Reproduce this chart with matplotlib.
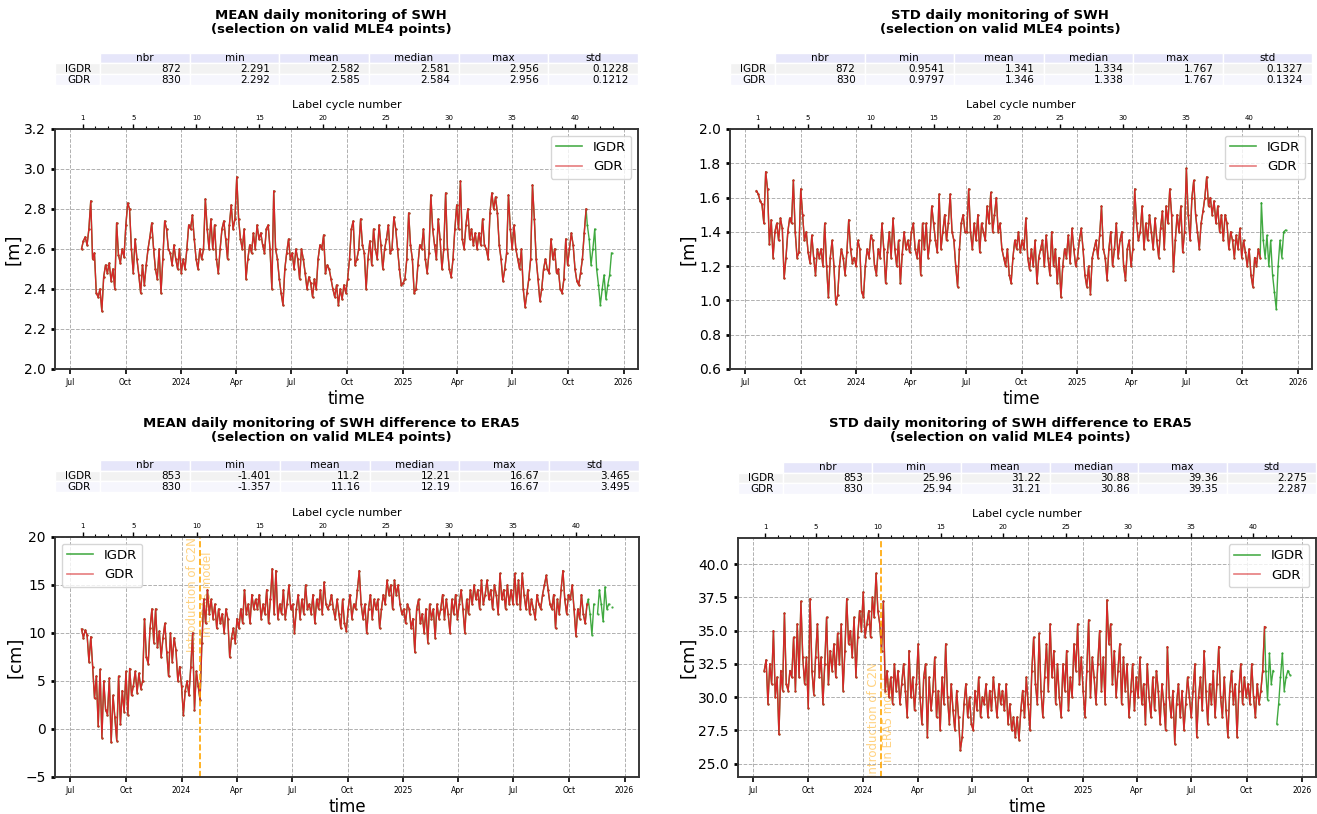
import numpy as np
import pandas as pd
import matplotlib
matplotlib.use("Agg")
import matplotlib.pyplot as plt
import matplotlib.dates as mdates
import matplotlib.ticker as mticker
from matplotlib.patches import Rectangle
from matplotlib.lines import Line2D

plt.rcParams["font.family"] = ["DejaVu Sans"]

# ---------------------------------------------------------------- data
gdr_start, gdr_end = "2023-07-20", "2025-10-31"
tail_start, tail_end = "2025-11-02", "2025-12-12"

# MEAN SWH [m] (GDR, ~3-day samples, one line per month)
mean_swh_gdr = [
    2.60, 2.64, 2.66, 2.62,
    2.70, 2.84, 2.55, 2.58, 2.38, 2.36, 2.40, 2.29, 2.46, 2.52,
    2.48, 2.53, 2.44, 2.50, 2.40, 2.73, 2.57, 2.53, 2.60, 2.56,
    2.72, 2.83, 2.80, 2.60, 2.48, 2.65, 2.55, 2.47, 2.38, 2.52,
    2.42, 2.52, 2.60, 2.66, 2.73, 2.60, 2.50, 2.45, 2.60, 2.38,
    2.55, 2.74, 2.70, 2.60, 2.58, 2.52, 2.62, 2.55, 2.50, 2.60,
    2.48, 2.55, 2.50, 2.60, 2.72, 2.70, 2.77, 2.65, 2.55, 2.50,
    2.60, 2.55, 2.60, 2.85, 2.70, 2.60, 2.75, 2.60, 2.72, 2.55,
    2.48, 2.60, 2.70, 2.74, 2.65, 2.55, 2.72, 2.82, 2.70, 2.75,
    2.96, 2.75, 2.65, 2.60, 2.70, 2.45, 2.55, 2.62, 2.58, 2.68,
    2.60, 2.72, 2.65, 2.68, 2.62, 2.58, 2.70, 2.72, 2.60, 2.40,
    2.89, 2.60, 2.55, 2.45, 2.38, 2.32, 2.50, 2.58, 2.65, 2.55,
    2.58, 2.50, 2.60, 2.55, 2.45, 2.60, 2.55, 2.48, 2.40, 2.46,
    2.43, 2.36, 2.45, 2.40, 2.55, 2.62, 2.60, 2.67, 2.48, 2.52,
    2.50, 2.45, 2.40, 2.36, 2.42, 2.32, 2.40, 2.35, 2.42, 2.38,
    2.45, 2.55, 2.70, 2.74, 2.52, 2.55, 2.60, 2.75, 2.62, 2.58,
    2.40, 2.55, 2.64, 2.52, 2.70, 2.60, 2.55, 2.72, 2.62, 2.50,
    2.60, 2.65, 2.72, 2.58, 2.60, 2.76, 2.70, 2.60, 2.50, 2.42,
    2.43, 2.45, 2.55, 2.78, 2.62, 2.55, 2.38, 2.40, 2.52, 2.62,
    2.60, 2.70, 2.55, 2.48, 2.58, 2.87, 2.70, 2.62, 2.55, 2.75,
    2.65, 2.50, 2.60, 2.88, 2.60, 2.50, 2.46, 2.55, 2.70, 2.82,
    2.70, 2.94, 2.65, 2.60, 2.72, 2.80, 2.65, 2.70, 2.62, 2.68,
    2.60, 2.68, 2.62, 2.75, 2.62, 2.60, 2.55, 2.78, 2.88, 2.80,
    2.86, 2.78, 2.62, 2.55, 2.44, 2.50, 2.58, 2.87, 2.70, 2.60,
    2.72, 2.60, 2.55, 2.50, 2.60, 2.40, 2.31, 2.38, 2.45, 2.55,
    2.92, 2.75, 2.55, 2.45, 2.34, 2.40, 2.50, 2.55, 2.50, 2.48,
    2.65, 2.55, 2.60, 2.48, 2.50, 2.40, 2.38, 2.45, 2.65, 2.52,
    2.60, 2.68, 2.62, 2.50, 2.44, 2.42, 2.48, 2.55, 2.68, 2.80,
]
mean_swh_igdr_tail = [2.72, 2.65, 2.52, 2.60, 2.70, 2.50, 2.42, 2.32, 2.40, 2.47, 2.35, 2.42, 2.47, 2.58]

# STD SWH [m]
std_swh_gdr = [
    1.64, 1.62, 1.58, 1.56,
    1.45, 1.75, 1.65, 1.33, 1.47, 1.25, 1.40, 1.45, 1.35, 1.48,
    1.42, 1.13, 1.25, 1.40, 1.48, 1.45, 1.70, 1.40, 1.25, 1.28,
    1.65, 1.50, 1.35, 1.40, 1.28, 1.22, 1.38, 1.25, 1.15, 1.30,
    1.25, 1.30, 1.20, 1.45, 1.20, 1.02, 1.25, 1.35, 1.20, 0.98,
    1.03, 1.20, 1.30, 1.25, 1.15, 1.28, 1.47, 1.30, 1.22, 1.25,
    1.20, 1.35, 1.30, 1.05, 1.02, 1.20, 1.30, 1.25, 1.38, 1.35,
    1.20, 1.15, 1.30, 1.25, 1.45, 1.30, 1.10, 1.28, 1.40, 1.25,
    1.48, 1.30, 1.20, 1.35, 1.10, 1.27, 1.40, 1.30, 1.35, 1.28,
    1.40, 1.45, 1.30, 1.25, 1.35, 1.15, 1.45, 1.30, 1.45, 1.25,
    1.35, 1.55, 1.45, 1.35, 1.28, 1.62, 1.30, 1.40, 1.50, 1.35,
    1.45, 1.62, 1.40, 1.35, 1.20, 1.08, 1.30, 1.45, 1.50, 1.40,
    1.40, 1.65, 1.40, 1.30, 1.45, 1.35, 1.50, 1.28, 1.45, 1.40,
    1.35, 1.55, 1.45, 1.63, 1.40, 1.50, 1.60, 1.40, 1.45, 1.30,
    1.25, 1.20, 1.30, 1.15, 1.10, 1.25, 1.35, 1.30, 1.40, 1.28,
    1.35, 1.30, 1.48, 1.25, 1.18, 1.30, 1.20, 1.35, 1.10, 1.25,
    1.30, 1.35, 1.20, 1.38, 1.25, 1.15, 1.40, 1.20, 1.30, 1.10,
    1.25, 1.02, 1.20, 1.30, 1.25, 1.38, 1.22, 1.42, 1.30, 1.20,
    1.25, 1.35, 1.42, 1.30, 1.15, 1.08, 1.20, 1.04, 1.25, 1.30,
    1.35, 1.25, 1.38, 1.55, 1.30, 1.25, 1.12, 1.30, 1.40, 1.20,
    1.30, 1.45, 1.25, 1.35, 1.40, 1.20, 1.12, 1.30, 1.35, 1.20,
    1.30, 1.65, 1.45, 1.35, 1.40, 1.55, 1.30, 1.45, 1.35, 1.50,
    1.40, 1.30, 1.48, 1.35, 1.25, 1.42, 1.52, 1.30, 1.55, 1.45,
    1.65, 1.50, 1.17, 1.35, 1.50, 1.40, 1.55, 1.28, 1.40, 1.77,
    1.50, 1.35, 1.60, 1.70, 1.50, 1.40, 1.30, 1.45, 1.52, 1.60,
    1.72, 1.55, 1.60, 1.50, 1.58, 1.45, 1.55, 1.40, 1.50, 1.35,
    1.50, 1.45, 1.30, 1.40, 1.35, 1.25, 1.38, 1.30, 1.42, 1.25,
    1.35, 1.28, 1.20, 1.30, 1.15, 1.08, 1.25, 1.20, 1.30, 1.25,
]
std_swh_igdr_tail = [1.57, 1.35, 1.25, 1.38, 1.20, 1.35, 1.15, 1.05, 0.95, 1.20, 1.35, 1.25, 1.40, 1.41]

# MEAN SWH difference to ERA5 [cm]
mean_diff_gdr = [
    10.4, 9.5, 10.3, 9.8,
    7.0, 9.6, 6.5, 3.2, 5.5, 0.3, 6.2, -0.9, 5.0, 2.0,
    1.5, 5.3, -1.4, 3.5, 1.2, -1.2, 5.5, 0.5, 4.0, 1.8,
    6.0, 1.5, 6.3, 3.5, 4.5, 6.0, 3.8, 5.8, 4.2, 5.0,
    11.5, 7.5, 6.8, 10.5, 12.5, 9.0, 12.5, 8.5, 10.2, 7.5,
    9.5, 11.0, 8.0, 5.5, 10.0, 7.0, 9.5, 8.2, 5.0, 6.5,
    4.5, 1.5, 4.0, 5.0, 3.5, 6.5, 10.0, 2.0, 6.0, 4.5,
    3.0, 9.0, 13.5, 11.0, 14.5, 12.0, 13.5, 11.5, 13.0, 10.5,
    12.5, 11.0, 12.0, 10.0, 12.5, 11.5, 7.5, 9.5, 10.5, 9.0,
    11.5, 10.5, 12.5, 11.0, 14.5, 12.0, 13.0, 11.0, 14.0, 12.5,
    13.5, 12.5, 14.0, 11.5, 13.0, 12.0, 14.5, 11.0, 13.5, 16.7,
    12.0, 16.5, 11.5, 13.0, 12.0, 14.5, 11.5, 13.0, 15.0, 12.5,
    13.0, 10.0, 12.5, 14.0, 11.5, 13.5, 12.0, 15.0, 12.5, 13.0,
    12.0, 14.0, 11.0, 13.5, 12.5, 14.5, 12.0, 15.3, 13.0, 12.5,
    13.0, 14.0, 12.5, 11.5, 13.5, 12.0, 10.5, 13.5, 11.0, 10.2,
    12.5, 14.0, 11.5, 13.0, 12.5, 14.5, 16.5, 13.0, 11.5, 13.0,
    10.0, 12.5, 14.0, 11.5, 13.5, 12.5, 13.5, 10.5, 12.5, 14.0,
    13.0, 15.5, 14.0, 15.0, 12.5, 15.5, 14.0, 15.0, 13.0, 12.0,
    12.5, 11.0, 13.0, 12.5, 10.5, 11.5, 8.0, 12.5, 13.5, 11.0,
    12.0, 10.0, 12.5, 9.0, 13.0, 11.5, 12.5, 9.5, 13.0, 11.5,
    12.5, 14.0, 11.5, 13.5, 12.0, 10.0, 13.5, 12.0, 14.0, 11.5,
    13.0, 14.5, 12.5, 10.0, 13.5, 12.0, 14.5, 13.0, 15.0, 13.5,
    14.5, 12.5, 15.5, 13.0, 14.0, 15.5, 13.5, 14.5, 12.5, 15.0,
    14.0, 12.0, 16.2, 13.5, 14.5, 12.5, 15.0, 13.0, 14.5, 13.0,
    16.2, 13.0, 15.5, 12.5, 16.2, 14.0, 12.5, 14.5, 12.0, 13.5,
    12.5, 11.5, 14.0, 13.0, 12.5, 14.0, 15.0, 16.0, 14.5, 13.0,
    12.5, 14.0, 10.5, 13.5, 12.0, 14.5, 16.5, 13.5, 12.0, 14.0,
    13.5, 15.0, 12.5, 9.7, 12.5, 11.5, 14.0, 12.0, 11.0, 13.0,
]
mean_diff_igdr_tail = [13.5, 12.0, 9.8, 13.0, np.nan, 12.0, 14.5, 13.0, 11.2, 14.8, 12.5, 13.0, np.nan, 12.7]

# STD SWH difference to ERA5 [cm]
std_diff_gdr = [
    32.0, 32.8, 29.5, 32.5,
    31.0, 35.0, 30.0, 31.5, 27.2, 32.0, 30.5, 36.3, 31.0, 30.5,
    32.0, 31.5, 34.5, 30.5, 35.5, 31.5, 37.2, 33.0, 31.0, 33.0,
    29.2, 37.4, 32.0, 30.2, 33.0, 35.5, 31.5, 33.0, 29.5, 32.5,
    36.0, 31.0, 33.5, 32.0, 34.0, 31.5, 34.8, 32.5, 35.5, 30.5,
    33.5, 37.4, 34.0, 35.0, 33.0, 36.0, 31.5, 34.5, 36.5, 35.0,
    37.9, 34.5, 35.5, 36.5, 34.5, 37.5, 36.0, 39.3, 36.5, 35.5,
    33.5, 37.2, 30.5, 32.0, 30.0, 31.5, 29.5, 32.5, 30.5, 32.0,
    29.5, 31.0, 32.5, 30.5, 28.5, 33.5, 30.0, 31.5, 29.0, 31.0,
    34.0, 30.0, 28.0, 31.5, 32.5, 27.0, 31.5, 29.0, 30.5, 33.0,
    28.5, 30.5, 27.5, 31.5, 29.5, 34.0, 30.0, 28.0, 31.0, 29.0,
    27.5, 30.5, 28.5, 26.0, 27.0, 29.5, 31.0, 28.5, 30.0, 28.0,
    27.5, 30.5, 29.0, 31.5, 28.5, 30.0, 29.5, 31.0, 28.5, 30.5,
    29.0, 31.5, 30.0, 28.5, 31.0, 29.5, 30.5, 29.0, 31.0, 28.0,
    29.5, 27.5, 28.5, 27.0, 28.5, 26.8, 29.0, 30.5, 28.5, 31.5,
    29.5, 27.5, 32.0, 34.5, 31.0, 29.5, 34.8, 30.5, 28.5, 31.5,
    34.0, 30.5, 35.5, 31.5, 33.5, 29.5, 32.5, 30.0, 28.5, 32.5,
    30.5, 33.5, 29.0, 31.5, 30.0, 34.0, 32.0, 35.5, 31.0, 33.0,
    30.5, 28.5, 32.0, 35.8, 30.0, 33.0, 31.5, 29.5, 32.5, 35.0,
    30.5, 33.0, 29.5, 37.3, 34.0, 35.5, 31.0, 33.5, 30.0, 32.0,
    34.0, 29.5, 33.0, 30.5, 32.5, 28.5, 30.5, 32.5, 29.0, 31.5,
    30.0, 33.0, 29.5, 31.0, 28.0, 32.5, 30.0, 28.5, 31.5, 29.0,
    32.0, 30.5, 28.0, 31.0, 29.5, 27.5, 33.8, 30.0, 28.5, 30.5,
    26.5, 29.5, 31.0, 28.5, 30.5, 27.5, 29.5, 31.5, 30.0, 28.5,
    30.5, 32.5, 27.0, 30.0, 31.5, 29.0, 33.5, 30.5, 28.0, 31.0,
    29.5, 32.0, 28.5, 31.0, 33.8, 30.0, 28.5, 31.5, 29.0, 27.0,
    30.5, 32.0, 29.5, 31.0, 27.0, 30.5, 32.5, 29.5, 31.5, 30.0,
    31.0, 29.5, 32.5, 30.0, 28.5, 31.0, 29.5, 30.5, 32.0, 35.3,
]
std_diff_igdr_tail = [32.0, 29.8, 33.3, 31.0, 32.0, np.nan, 28.0, 29.5, 31.5, 33.3, 30.5, 31.5, 32.0, 31.7]

# statistics tables
stat_cols = ["nbr", "min", "mean", "median", "max", "std"]
stat_rows = ["IGDR", "GDR"]
stats_mean_swh = [["872", "2.291", "2.582", "2.581", "2.956", "0.1228"],
                  ["830", "2.292", "2.585", "2.584", "2.956", "0.1212"]]
stats_std_swh = [["872", "0.9541", "1.341", "1.334", "1.767", "0.1327"],
                 ["830", "0.9797", "1.346", "1.338", "1.767", "0.1324"]]
stats_mean_diff = [["853", "-1.401", "11.2", "12.21", "16.67", "3.465"],
                   ["830", "-1.357", "11.16", "12.19", "16.67", "3.495"]]
stats_std_diff = [["853", "25.96", "31.22", "30.88", "39.36", "2.275"],
                  ["830", "25.94", "31.21", "30.86", "39.35", "2.287"]]

# cycle numbering (21-day repeat cycle)
cycle1_date = "2023-07-22"
cycle_days = 20.86
cycle_major = [1, 5, 10, 15, 20, 25, 30, 35, 40]
cycle_minor = list(range(1, 44))

c2n_date = "2024-01-31"
c2n_text = "Introduction of C2N\nin ERA5 model"

IGDR_COLOR = "#2ca02c"
GDR_COLOR = "#d62728"

# ---------------------------------------------------------------- figure
W, H = 1317, 814
fig = plt.figure(figsize=(W / 100, H / 100), dpi=100)


def px_axes(x0, y0, x1, y1):
    return fig.add_axes([x0 / W, 1 - y1 / H, (x1 - x0) / W, (y1 - y0) / H])


def draw_table(x0, y0, x1, y1, data):
    tax = px_axes(x0, y0, x1, y1)
    tax.axis("off")
    w, h = x1 - x0, y1 - y0
    tax.set_xlim(0, w)
    tax.set_ylim(h, 0)
    lab_w = 45
    cw = (w - lab_w) / len(stat_cols)
    rh = h / 3
    fs = 7.5
    for j, c in enumerate(stat_cols):
        tax.add_patch(Rectangle((lab_w + j * cw, 0), cw, rh, fc="#e6e6fa", ec="white", lw=1))
        tax.text(lab_w + (j + 0.5) * cw, rh / 2, c, ha="center", va="center", fontsize=fs)
    row_cols = ["#f2f2f2", "#f6f6fd"]
    for i, (rname, row) in enumerate(zip(stat_rows, data)):
        yy = (i + 1) * rh
        tax.add_patch(Rectangle((0, yy), lab_w, rh, fc=row_cols[i], ec="white", lw=1))
        tax.text(lab_w - 9, yy + rh / 2, rname, ha="right", va="center", fontsize=fs)
        for j, v in enumerate(row):
            tax.add_patch(Rectangle((lab_w + j * cw, yy), cw, rh, fc=row_cols[i], ec="white", lw=1))
            tax.text(lab_w + (j + 1) * cw - 0.1 * cw, yy + rh / 2, v, ha="right", va="center", fontsize=fs)


def panel(rect, title_xy, title, gdr, tail, ylim, ylabel, legend_loc, c2n=None, ystep=None, yfmt=None):
    ax = px_axes(*rect)
    g = np.array(gdr, dtype=float)
    t = np.array(tail, dtype=float)
    gd = pd.date_range(gdr_start, gdr_end, periods=len(g))
    td = pd.date_range(tail_start, tail_end, periods=len(t))
    idates = np.concatenate([gd.values, td.values])
    ivals = np.concatenate([g, t])
    ax.plot(idates, ivals, color=IGDR_COLOR, lw=1.0, alpha=0.9, marker=".", ms=1.2)
    ax.plot(gd.values, g, color=GDR_COLOR, lw=1.0, alpha=1.0, marker=".", ms=1.2)
    ax.set_ylim(*ylim)
    if ystep is not None:
        ax.yaxis.set_major_locator(mticker.MultipleLocator(ystep))
    if yfmt is not None:
        ax.yaxis.set_major_formatter(mticker.FormatStrFormatter(yfmt))
    ax.xaxis.set_major_locator(mdates.MonthLocator(bymonth=[1, 4, 7, 10]))
    ax.xaxis.set_major_formatter(mdates.ConciseDateFormatter(ax.xaxis.get_major_locator(), show_offset=False))
    ax.tick_params(axis="x", labelsize=5.5, width=1.2, length=3.5, pad=3)
    ax.tick_params(axis="y", labelsize=10, width=2, length=3)
    ax.grid(True, ls="--", color="#b0b0b0", lw=0.7)
    ax.set_xlabel("time", fontsize=12, labelpad=2)
    ax.set_ylabel(ylabel, fontsize=13, labelpad=1)
    for s in ax.spines.values():
        s.set_color("#333333")
        s.set_linewidth(1.1)
    if c2n is not None:
        cd = np.datetime64(c2n_date)
        ax.axvline(cd, color="orange", ls="--", lw=1.2)
        ax.text(cd, 1.0 if c2n == "top" else 0.0, c2n_text, rotation=90, ha="center",
                va="top" if c2n == "top" else "bottom", color="orange", alpha=0.5,
                fontsize=8.5, transform=ax.get_xaxis_transform(), zorder=1)
    handles = [Line2D([], [], color=IGDR_COLOR, lw=1.2, alpha=0.85),
               Line2D([], [], color=GDR_COLOR, lw=1.2, alpha=0.6)]
    ax.legend(handles, stat_rows, loc=legend_loc, fontsize=9.5)
    xl = ax.get_xlim()
    ax2 = ax.twiny()
    ax2.set_xlim(xl)
    base = mdates.date2num(np.datetime64(cycle1_date))
    ax2.set_xticks([base + (c - 1) * cycle_days for c in cycle_major])
    ax2.set_xticklabels([str(c) for c in cycle_major])
    ax2.set_xticks([base + (c - 1) * cycle_days for c in cycle_minor], minor=True)
    ax2.tick_params(axis="x", which="major", labelsize=5, length=3.5, width=1, pad=2)
    ax2.tick_params(axis="x", which="minor", length=2, width=0.8)
    ax2.set_xlabel("Label cycle number", fontsize=8, labelpad=5)
    for s in ax2.spines.values():
        s.set_color("#333333")
        s.set_linewidth(1.1)
    fig.text(title_xy[0] / W, 1 - title_xy[1] / H, title, ha="center", va="center",
             fontsize=9.5, fontweight="bold", linespacing=1.15)
    return ax


panel((55, 129, 638, 369), (331, 22.5),
      "MEAN daily monitoring of SWH\n(selection on valid MLE4 points)",
      mean_swh_gdr, mean_swh_igdr_tail, (2.0, 3.2), "[m]", "upper right")
draw_table(55, 52.7, 638, 85, stats_mean_swh)

panel((730, 129, 1312, 369), (1000, 22.5),
      "STD daily monitoring of SWH\n(selection on valid MLE4 points)",
      std_swh_gdr, std_swh_igdr_tail, (0.6, 2.0), "[m]", "upper right")
draw_table(730, 52.7, 1312, 85, stats_std_swh)

panel((55, 537, 639, 777), (331, 430.5),
      "MEAN daily monitoring of SWH difference to ERA5\n(selection on valid MLE4 points)",
      mean_diff_gdr, mean_diff_igdr_tail, (-5, 20), "[cm]", "upper left", c2n="top")
draw_table(55, 460, 639, 492, stats_mean_diff)

panel((738, 537.5, 1316, 777), (1010, 430.5),
      "STD daily monitoring of SWH difference to ERA5\n(selection on valid MLE4 points)",
      std_diff_gdr, std_diff_igdr_tail, (24, 42), "[cm]", "upper right", c2n="bottom",
      ystep=2.5, yfmt="%.1f")
draw_table(738, 462, 1316, 494, stats_std_diff)

fig.savefig("out.png", dpi=100)
